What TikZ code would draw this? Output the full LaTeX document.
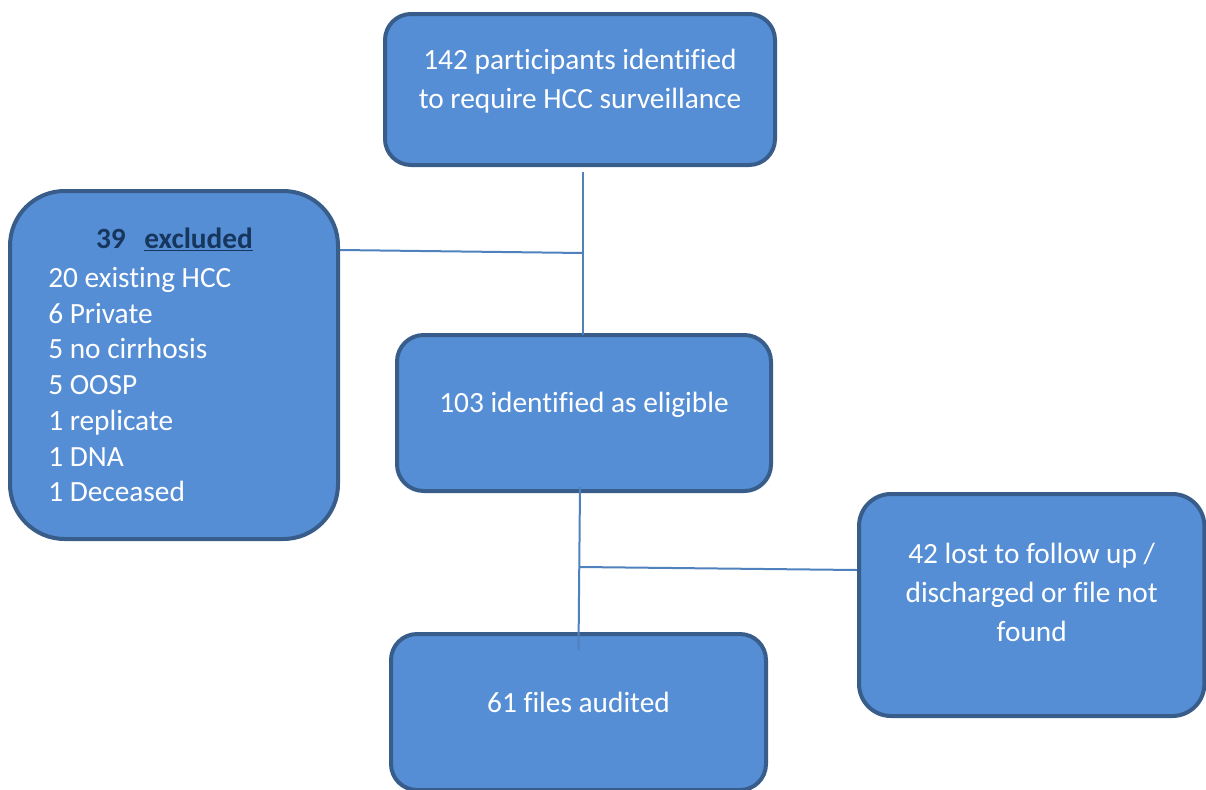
\documentclass[tikz,border=0pt]{standalone}
\usepackage{fontspec}
\setmainfont{Carlito}[Ligatures=NoCommon]

\definecolor{boxfill}{RGB}{85,142,213}
\definecolor{boxline}{RGB}{56,93,138}
\definecolor{connline}{RGB}{79,129,189}
\definecolor{headnavy}{RGB}{23,54,93}

\begin{document}
\begin{tikzpicture}[
  x=0.75pt, y=-0.75pt,
  stage/.style={draw=boxline, fill=boxfill, line width=3pt, rounded corners=19.5pt},
  txt/.style={text=white, align=center, inner sep=0pt, font=\fontsize{22}{29.4}\selectfont},
  conn/.style={draw=connline, line width=1.5pt}
]
\useasboundingbox (0,0) rectangle (1206,789);

\node[stage, minimum width=292.5pt, minimum height=113.25pt] (top) at (580,89.5) {};
\node[stage, minimum width=246pt, minimum height=261pt, rounded corners=41pt] (excl) at (174,365) {};
\node[stage, minimum width=280.5pt, minimum height=117pt, rounded corners=20pt] (elig) at (584,413) {};
\node[stage, minimum width=259pt, minimum height=166.5pt, rounded corners=24pt] (lost) at (1031.7,605) {};
\node[stage, minimum width=281.25pt, minimum height=117pt] (files) at (578.5,712) {};

\node[txt] (toptxt) at ([yshift=6.4pt]top.center) {142 participants identified\\to require HCC surveillance};
\node[txt] (eligtxt) at ([yshift=6pt]elig.center) {103 identified as eligible};
\node[txt] (losttxt) at ([yshift=9.4pt]lost.center) {42 lost to follow up /\\discharged or file not\\found};
\node[txt] (filestxt) at ([yshift=7.5pt]files.center) {61 files audited};

\node[txt, anchor=base, text=headnavy, font=\bfseries\fontsize{22}{29.4}\selectfont] (exhead) at (174.5,248) {39\hspace{14pt}\underline{excluded}};
\node[txt, anchor=north west, align=left, font=\fontsize{22}{26.8}\selectfont] (exlist) at (48,267)
  {20 existing HCC\\6 Private\\5 no cirrhosis\\5 OOSP\\1 replicate\\1 DNA\\1 Deceased};

\coordinate (jA) at (583,253);
\coordinate (jB) at (580,567);

\draw[conn] ([yshift=-3.75pt]top.south -| jA) -- ([yshift=-1.5pt]elig.north -| jA);
\draw[conn] (excl.east |- 0,250) -- (jA);
\draw[conn] ([yshift=4.5pt]elig.south -| jB) -- ([yshift=-13.5pt]files.north);
\draw[conn] (jB) -- (lost.west |- 0,570);

\end{tikzpicture}
\end{document}
